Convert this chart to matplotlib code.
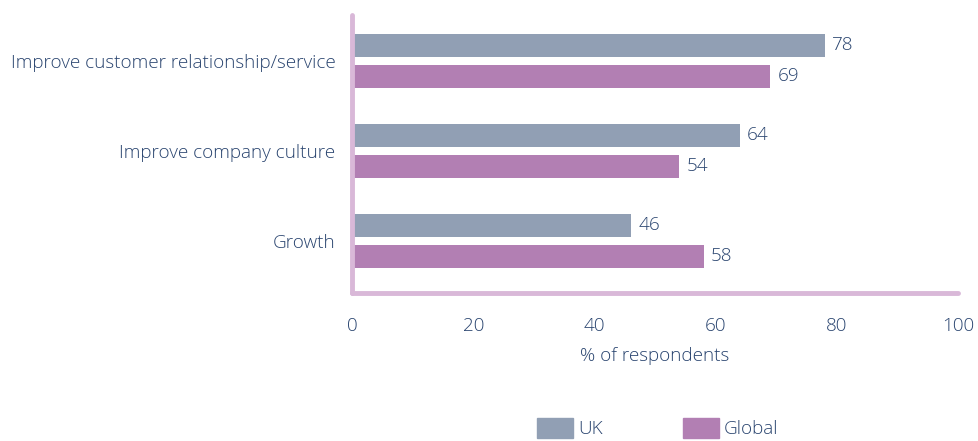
import matplotlib.pyplot as plt
import numpy as np
from matplotlib.patches import Patch

categories = ['Improve customer relationship/service', 'Improve company culture', 'Growth']
uk = [78, 64, 46]
global_ = [69, 54, 58]
xticks = [0, 20, 40, 60, 80, 100]

text_col = '#29446f'
uk_col = '#919fb4'
gl_col = '#b27fb3'
axis_col = '#d9b8d8'

plt.rcParams['font.family'] = ['Open Sans', 'DejaVu Sans']
plt.rcParams['font.weight'] = 'light'
plt.rcParams['axes.labelweight'] = 'light'
fs = 13.6

fig = plt.figure(figsize=(9.79, 4.41), dpi=100)
ax = fig.add_axes([0.3596, 0.3356, 0.6190, 0.6304])

y = np.arange(len(categories))
h = 0.256
off = 0.172
ax.barh(y - off, uk, height=h, color=uk_col, label='UK')
ax.barh(y + off, global_, height=h, color=gl_col, label='Global')

for yi, v in zip(y - off, uk):
    ax.text(v + 1.2, yi, str(v), va='center', ha='left', fontsize=fs, color=text_col)
for yi, v in zip(y + off, global_):
    ax.text(v + 1.2, yi, str(v), va='center', ha='left', fontsize=fs, color=text_col)

ax.set_xlim(0, 100)
ax.set_ylim(2.583, -0.511)
ax.set_xticks(xticks)
ax.set_yticks(y)
ax.set_yticklabels(categories)
ax.tick_params(axis='both', length=0, labelsize=fs, labelcolor=text_col)
ax.tick_params(axis='x', pad=17)
ax.tick_params(axis='y', pad=12)
ax.set_xlabel('% of respondents', fontsize=fs, color=text_col, labelpad=9)

for side in ['top', 'right']:
    ax.spines[side].set_visible(False)
for side in ['left', 'bottom']:
    ax.spines[side].set_color(axis_col)
    ax.spines[side].set_linewidth(3.5)
    ax.spines[side].set_capstyle('round')

handles = [Patch(color=uk_col, label='UK'), Patch(color=gl_col, label='Global')]
fig.legend(handles=handles, loc='center', bbox_to_anchor=(0.672, 0.029), ncol=2,
           frameon=False, fontsize=fs, labelcolor=text_col,
           handlelength=1.9, handleheight=1.2, handletextpad=0.3, columnspacing=4.2)

fig.savefig('out.png', dpi=100)
